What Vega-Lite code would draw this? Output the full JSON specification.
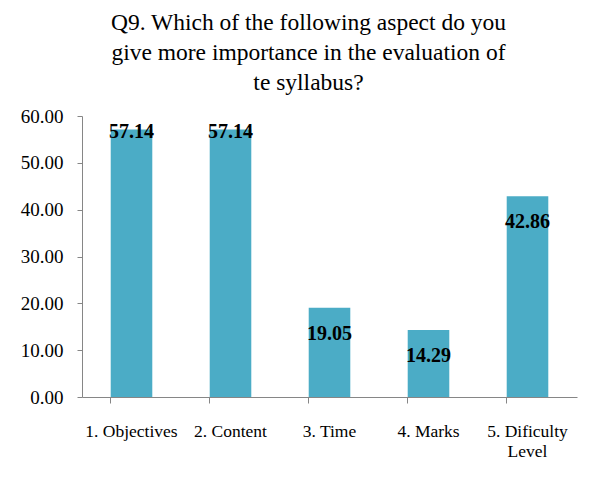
{
  "$schema": "https://vega.github.io/schema/vega-lite/v6.json",
  "width": 495,
  "height": 281,
  "autosize": "none",
  "padding": {"left": 82, "top": 116, "right": 25, "bottom": 89},
  "background": "white",
  "title": {
    "text": ["Q9. Which of the following aspect do you", "give more importance in the evaluation of", "te syllabus?"],
    "font": "Liberation Serif",
    "fontSize": 23.5,
    "fontWeight": "normal",
    "color": "black",
    "lineHeight": 30,
    "anchor": "middle",
    "dx": -21,
    "offset": 13
  },
  "data": {
    "values": [
      {"aspect": "1. Objectives", "value": 57.14},
      {"aspect": "2. Content", "value": 57.14},
      {"aspect": "3. Time", "value": 19.05},
      {"aspect": "4. Marks", "value": 14.29},
      {"aspect": "5. Dificulty Level", "value": 42.86}
    ]
  },
  "encoding": {
    "x": {
      "field": "aspect",
      "type": "nominal",
      "sort": null,
      "scale": {"paddingInner": 0.58, "paddingOuter": 0.29},
      "axis": {
        "title": null,
        "labelAngle": 0,
        "labelFont": "Liberation Serif",
        "labelFontSize": 17.5,
        "labelColor": "black",
        "labelPadding": 19,
        "labelLineHeight": 20,
        "labelExpr": "datum.value == '5. Dificulty Level' ? ['5. Dificulty', 'Level'] : datum.label",
        "domainColor": "#868686",
        "tickColor": "#868686",
        "bandPosition": 0,
        "tickSize": 6,
        "grid": false
      }
    },
    "y": {
      "field": "value",
      "type": "quantitative",
      "scale": {"domain": [0, 60], "nice": false},
      "axis": {
        "title": null,
        "values": [0, 10, 20, 30, 40, 50, 60],
        "format": ".2f",
        "labelFont": "Liberation Serif",
        "labelFontSize": 19,
        "labelColor": "black",
        "labelPadding": 14,
        "domainColor": "#868686",
        "tickColor": "#868686",
        "tickSize": 5,
        "grid": false
      }
    }
  },
  "layer": [
    {"mark": {"type": "bar", "color": "#4BACC6"}},
    {
      "mark": {
        "type": "text",
        "font": "Liberation Serif",
        "fontSize": 20,
        "fontWeight": "bold",
        "color": "black",
        "baseline": "middle",
        "dy": {"expr": "datum.value > 50 ? 3 : 26"}
      },
      "encoding": {
        "text": {"field": "value", "type": "quantitative", "format": ".2f"}
      }
    }
  ],
  "config": {
    "view": {"stroke": null}
  }
}
